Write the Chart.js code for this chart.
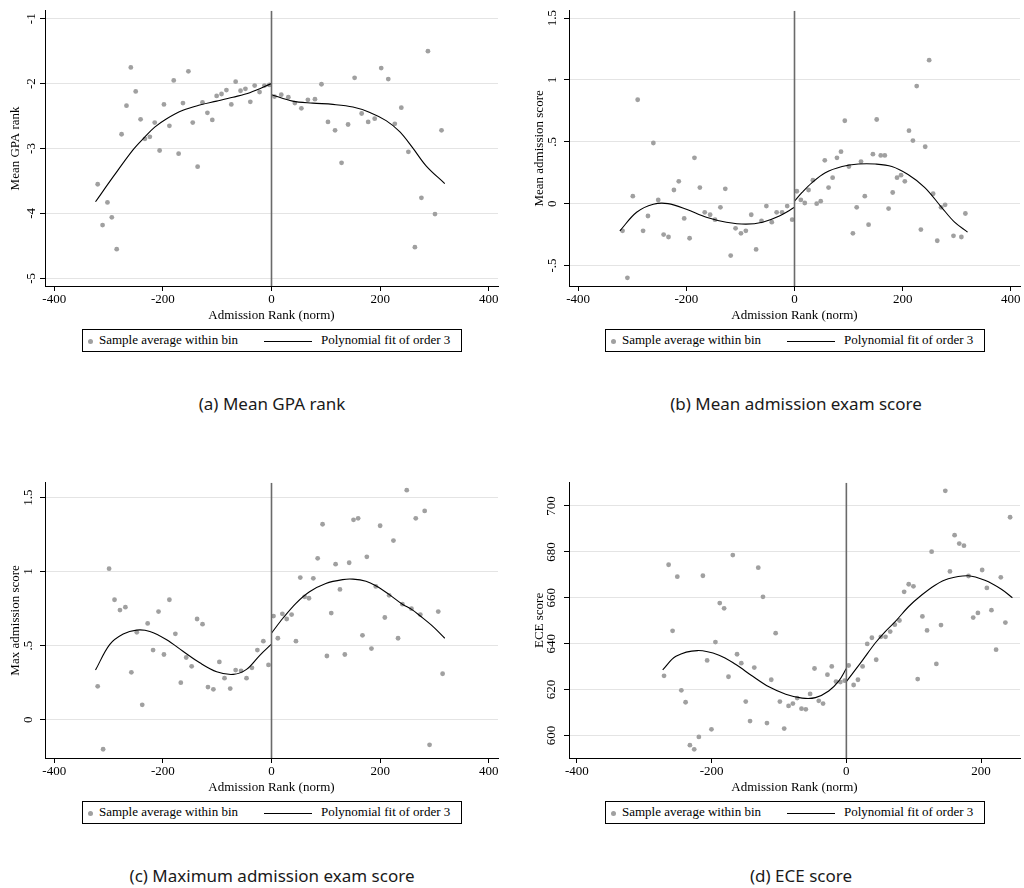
<!DOCTYPE html>
<html>
<head>
<meta charset="utf-8">
<script src="https://cdn.jsdelivr.net/npm/chart.js@4.4.1/dist/chart.umd.min.js"></script>
<style>
  html, body { margin: 0; padding: 0; background: #fff; }
  body { width: 1024px; height: 888px; overflow: hidden; position: relative; }
  canvas { position: absolute; }
  .legend {
    position: absolute; box-sizing: border-box; width: 380px; height: 23px;
    border: 1px solid #000; font: 13px 'Liberation Serif', serif; color: #000;
  }
  .legend span { position: absolute; top: 2px; white-space: nowrap; }
  .legend .dot { position: absolute; top: 9px; width: 5px; height: 5px; border-radius: 50%; background: #a0a0a0; }
  .legend .ln { position: absolute; top: 11px; height: 1px; background: #000; }
  .caption {
    position: absolute; width: 512px; text-align: center;
    font: 17px 'Noto Sans', sans-serif; color: #1a1a1a;
  }
</style>
</head>
<body>
<canvas id="ca" width="520" height="326" style="left:0;top:0"></canvas>
<canvas id="cb" width="500" height="326" style="left:524px;top:0"></canvas>
<canvas id="cc" width="520" height="326" style="left:0;top:472px"></canvas>
<canvas id="cd" width="500" height="326" style="left:524px;top:472px"></canvas>

<div class="legend" style="left:82px;top:329px"><i class="dot" style="left:5px"></i><span style="left:16px">Sample average within bin</span><i class="ln" style="left:181px;width:48px"></i><span style="left:238px">Polynomial fit of order 3</span></div>
<div class="legend" style="left:605px;top:329px"><i class="dot" style="left:5px"></i><span style="left:16px">Sample average within bin</span><i class="ln" style="left:181px;width:48px"></i><span style="left:238px">Polynomial fit of order 3</span></div>
<div class="legend" style="left:82px;top:801px"><i class="dot" style="left:5px"></i><span style="left:16px">Sample average within bin</span><i class="ln" style="left:181px;width:48px"></i><span style="left:238px">Polynomial fit of order 3</span></div>
<div class="legend" style="left:605px;top:801px"><i class="dot" style="left:5px"></i><span style="left:16px">Sample average within bin</span><i class="ln" style="left:181px;width:48px"></i><span style="left:238px">Polynomial fit of order 3</span></div>

<div class="caption" style="left:16px;top:392px">(a) Mean GPA rank</div>
<div class="caption" style="left:540px;top:392px">(b) Mean admission exam score</div>
<div class="caption" style="left:16px;top:864px">(c) Maximum admission exam score</div>
<div class="caption" style="left:545px;top:864px">(d) ECE score</div>

<script>
// ---- (a) Mean GPA rank ----
const gpaBinX = [-320,-311,-302,-294,-285,-276,-267,-259,-250,-241,-233,-224,-215,-206,-198,-188,-180,-171,-163,-153,-145,-136,-127,-118,-109,-101,-92,-83,-74,-66,-57,-48,-39,-31,-22,-13,-4,
  5.5,18,31,43,55,67,80,92,104,117,129,141,153,166,178,190,202,215,227,239,252,264,276,288,301,313];
const gpaBinY = [-3.55,-4.18,-3.83,-4.06,-4.55,-2.78,-2.34,-1.75,-2.12,-2.55,-2.85,-2.82,-2.60,-3.03,-2.32,-2.65,-1.95,-3.08,-2.30,-1.81,-2.60,-3.28,-2.29,-2.45,-2.56,-2.19,-2.16,-2.10,-2.32,-1.97,-2.11,-2.08,-2.28,-2.03,-2.13,-2.03,-2.02,
  -2.20,-2.17,-2.21,-2.30,-2.38,-2.25,-2.24,-2.01,-2.59,-2.72,-3.22,-2.63,-1.91,-2.46,-2.59,-2.54,-1.76,-1.93,-2.62,-2.37,-3.05,-4.52,-3.76,-1.50,-4.01,-2.72];
const gpaFitLeftX  = [-324,-291,-255,-233,-215,-193,-163,-132,-101,-71,-40,0];
const gpaFitLeftY  = [-3.82,-3.43,-3.02,-2.82,-2.67,-2.54,-2.41,-2.33,-2.27,-2.21,-2.14,-2.00];
const gpaFitRightX = [0,39,76,113,150,180,211,236,260,285,319];
const gpaFitRightY = [-2.17,-2.27,-2.30,-2.32,-2.36,-2.44,-2.57,-2.74,-2.99,-3.27,-3.54];
const gpaTicksY = [-5,-4,-3,-2,-1];

// ---- (b) Mean admission exam score ----
const meanBinX = [-318,-309,-299,-290,-280,-271,-261,-252,-242,-233,-223,-214,-204,-194,-185,-175,-166,-156,-147,-137,-128,-118,-109,-99,-90,-80,-71,-61,-52,-42,-33,-23,-13.5,-4.3,
  4.3,11.7,19,26,34,41,48.5,56,63,70.5,78.5,86,93,100.6,108,115,123,130,137,145,152,159.5,167,174,181.6,189.6,197,204,211.7,219,226,233.7,241.7,249,256.4,264,271,278.5,294,308.6,316];
const meanBinY = [-0.22,-0.60,0.06,0.84,-0.22,-0.10,0.49,0.03,-0.25,-0.27,0.11,0.18,-0.12,-0.28,0.37,0.13,-0.07,-0.09,-0.13,-0.03,0.12,-0.42,-0.20,-0.24,-0.22,-0.09,-0.37,-0.14,-0.02,-0.15,-0.07,-0.07,-0.02,-0.13,
  0.10,0.03,0.005,0.11,0.19,0.00,0.02,0.35,0.13,0.21,0.37,0.42,0.67,0.30,-0.24,-0.03,0.34,0.06,-0.17,0.40,0.68,0.39,0.39,-0.04,0.09,0.21,0.23,0.18,0.59,0.51,0.95,-0.21,0.46,1.16,0.08,-0.30,-0.03,-0.01,-0.26,-0.27,-0.08];
const meanFitLeftX  = [-323,-292,-261,-234,-200,-163,-126,-90,-59,-28,0];
const meanFitLeftY  = [-0.22,-0.07,-0.005,0.00,-0.045,-0.11,-0.15,-0.166,-0.15,-0.10,-0.03];
const meanFitRightX = [0,14,32.5,57,88,118,149,180,210,241,272,296,320];
const meanFitRightY = [0.02,0.09,0.17,0.25,0.30,0.32,0.32,0.30,0.235,0.13,-0.03,-0.15,-0.23];
const meanTicksY = [-0.5,0,0.5,1,1.5];

// ---- (c) Maximum admission exam score ----
const maxBinX = [-320,-310,-299,-289,-279,-269,-258,-248,-238,-228,-218,-208,-198,-188,-177,-167,-157,-147,-137,-127,-117,-107,-96,-86.5,-76,-66,-56,-46,-36,-26,-15,-5.5,
  3.7,11.7,20,28,37,45,53,61,69,77,85,94,102,110,118,126,135,143,151,159.5,167.5,175.5,184,192,200,208.6,216.6,224.5,233,241,249,257.7,265.6,274,282,291,307,315];
const maxBinY = [0.225,-0.20,1.02,0.81,0.74,0.76,0.32,0.59,0.10,0.65,0.47,0.73,0.44,0.81,0.58,0.25,0.42,0.36,0.68,0.645,0.22,0.205,0.39,0.28,0.21,0.335,0.33,0.28,0.35,0.47,0.53,0.37,
  0.70,0.55,0.715,0.68,0.71,0.53,0.96,0.83,0.82,0.955,1.09,1.32,0.43,0.72,1.05,0.88,0.44,1.06,1.35,1.36,0.57,1.10,0.48,0.90,1.31,0.69,0.84,1.21,0.55,0.78,1.55,0.75,1.36,0.71,1.41,-0.17,0.73,0.31];
const maxFitLeftX  = [-324,-298,-273,-248.5,-224,-193,-163,-132,-101,-70.5,-46,-21.5,0];
const maxFitLeftY  = [0.335,0.507,0.578,0.605,0.596,0.54,0.462,0.384,0.324,0.306,0.34,0.435,0.51];
const maxFitRightX = [0,21,45,70,100,131,150,174,192,215,241,258,274,297,319];
const maxFitRightY = [0.585,0.685,0.786,0.864,0.92,0.946,0.949,0.935,0.905,0.85,0.78,0.745,0.70,0.63,0.55];
const maxTicksY = [0,0.5,1,1.5];

// ---- (d) ECE score ----
const eceBinX = [-270.7,-263.9,-258,-251,-245,-238.7,-232.3,-225.9,-219,-213,-206.7,-200.3,-194.4,-188,-181.5,-175,-168.6,-162.3,-156,-149.4,-143,-136.7,-130.8,-123.8,-117.9,-111.5,-105,-98.7,-92.3,-85.8,-79.4,-73,-66.6,-60.2,-53.8,-47.3,-41,-34.6,-28.1,-21.7,-15.4,-8.9,-2.5,
  3.4,10.8,17.2,24.1,31,37.9,44.3,51.2,58.1,65.1,71.9,78.8,85.8,92.6,99.6,105.9,112.9,119.8,126.6,133.6,140.5,146.9,153.8,160.7,167.6,174.6,181.4,188.3,195.3,201.6,208.6,215.4,222.3,229.3,236.1,243.1];
const eceBinY = [626.0,674.4,645.6,669.2,619.7,614.5,595.8,594.0,599.4,669.6,632.7,602.7,640.7,657.7,655.4,625.6,678.6,635.4,631.5,614.8,606.3,629.6,673.1,660.4,605.4,624.3,644.6,614.8,603.0,612.9,613.9,616.3,611.7,611.4,618.1,629.2,615.1,613.9,626.5,630.1,623.5,623.3,623.9,
  630.5,622.0,624.3,630.1,639.9,642.6,633.0,643.0,643.0,645.3,648.3,650.1,662.6,665.9,665.0,624.6,651.9,645.8,680.1,631.2,648.1,706.6,671.5,687.3,683.6,682.7,669.5,651.4,653.4,672.1,664.3,654.6,637.4,668.9,649.2,695.1];
const eceFitLeftX  = [-272.7,-253,-221,-189,-164,-139.6,-115,-90,-65.7,-45.9,-26.2,-11.4,0];
const eceFitLeftY  = [628.6,634.5,637.0,635.0,630.9,625.9,621.2,618.0,616.3,616.5,619.4,623.7,629.2];
const eceFitRightX = [0,23.1,42.9,57.7,72.5,92.2,111.8,131.7,151.3,181,205.6,230.2,246.5];
const eceFitRightY = [623.5,632.4,640.3,645.3,649.6,656.1,661.2,665.5,668.3,669.6,667.6,663.7,660.0];
const eceTicksY = [600,620,640,660,680,700];

const rankTicks = [-400,-200,0,200,400];
const rankTicksShort = [-400,-200,0,200];

const serif = 'Liberation Serif';
const pts = (xs, ys) => xs.map((x, i) => ({ x, y: ys[i] }));
// Stata-style number labels: .5, -.5
const stataNum = v => String(Math.round(v * 1000) / 1000).replace(/^0\./, '.').replace(/^-0\./, '-.');

function panel(id, o) {
  const datasets = [
    { data: pts([0, 0], [o.yMin, o.yMax]), showLine: true, borderColor: '#6a6a6a', borderWidth: 1.6, pointRadius: 0, order: 0 },
    { data: pts(o.fitLX, o.fitLY), showLine: true, borderColor: '#000', borderWidth: 1.1, pointRadius: 0, tension: 0.35, order: 1 },
    { data: pts(o.fitRX, o.fitRY), showLine: true, borderColor: '#000', borderWidth: 1.1, pointRadius: 0, tension: 0.35, order: 1 },
    { data: pts(o.binX, o.binY), pointRadius: 2.4, pointBorderWidth: 0, pointBackgroundColor: '#a0a0a0', order: 2 }
  ];
  new Chart(document.getElementById(id), {
    type: 'scatter',
    data: { datasets },
    options: {
      responsive: false, animation: false, events: [],
      layout: { padding: { left: 0, top: 8, right: o.padR, bottom: 0 } },
      plugins: { legend: { display: false }, tooltip: { enabled: false } },
      scales: {
        x: {
          type: 'linear', min: o.xMin, max: o.xMax,
          afterBuildTicks: s => { s.ticks = o.xTicks.map(v => ({ value: v })); },
          afterFit: s => { s.height = 40; },
          grid: { drawOnChartArea: false, drawTicks: true, tickLength: 5, tickColor: '#000' },
          border: { color: '#000', width: 1 },
          ticks: { font: { family: serif, size: 13 }, color: '#000', padding: 1, minRotation: 0, maxRotation: 0, callback: v => String(v) },
          title: { display: true, text: 'Admission Rank (norm)', font: { family: serif, size: 13 }, color: '#000', padding: { top: 0, bottom: 3 } }
        },
        y: {
          type: 'linear', min: o.yMin, max: o.yMax,
          afterBuildTicks: s => { s.ticks = o.yTicks.map(v => ({ value: v })); },
          afterFit: s => { s.width = 45; },
          grid: { color: '#e4e4e4', lineWidth: 1, drawTicks: true, tickLength: 5, tickColor: '#000' },
          border: { color: '#000', width: 1 },
          ticks: { font: { family: serif, size: 13 }, color: '#000', padding: 3, minRotation: 90, maxRotation: 90, crossAlign: 'center', callback: stataNum },
          title: { display: true, text: o.yTitle, font: { family: serif, size: 13 }, color: '#000', padding: { top: 8, bottom: 0 } }
        }
      }
    }
  });
}

panel('ca', { binX: gpaBinX, binY: gpaBinY, fitLX: gpaFitLeftX, fitLY: gpaFitLeftY, fitRX: gpaFitRightX, fitRY: gpaFitRightY,
  yTicks: gpaTicksY, yMin: -5.118, yMax: -0.878, xMin: -417, xMax: 417, xTicks: rankTicks, padR: 22, yTitle: 'Mean GPA rank' });
panel('cb', { binX: meanBinX, binY: meanBinY, fitLX: meanFitLeftX, fitLY: meanFitLeftY, fitRX: meanFitRightX, fitRY: meanFitRightY,
  yTicks: meanTicksY, yMin: -0.666, yMax: 1.559, xMin: -417, xMax: 417, xTicks: rankTicks, padR: 2, yTitle: 'Mean admission score' });
panel('cc', { binX: maxBinX, binY: maxBinY, fitLX: maxFitLeftX, fitLY: maxFitLeftY, fitRX: maxFitRightX, fitRY: maxFitRightY,
  yTicks: maxTicksY, yMin: -0.259, yMax: 1.60, xMin: -417, xMax: 417, xTicks: rankTicks, padR: 22, yTitle: 'Max admission score' });
panel('cd', { binX: eceBinX, binY: eceBinY, fitLX: eceFitLeftX, fitLY: eceFitLeftY, fitRX: eceFitRightX, fitRY: eceFitRightY,
  yTicks: eceTicksY, yMin: 590.2, yMax: 710.1, xMin: -411.8, xMax: 257.8, xTicks: rankTicksShort, padR: 2, yTitle: 'ECE score' });
</script>
</body>
</html>
